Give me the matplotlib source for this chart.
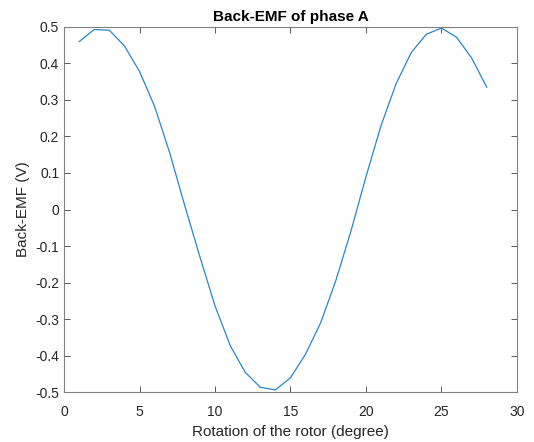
import numpy as np
import matplotlib.pyplot as plt

plt.rcParams['font.family'] = ['Liberation Sans', 'DejaVu Sans']

# rotor position (degree) and phase A back-EMF (V)
rotation = np.arange(1, 29)
emf = [0.460, 0.493, 0.491, 0.448, 0.378, 0.282, 0.155, 0.010, -0.130, -0.264,
       -0.372, -0.446, -0.487, -0.494, -0.461, -0.396, -0.310, -0.195, -0.060, 0.090,
       0.230, 0.345, 0.430, 0.480, 0.497, 0.472, 0.415, 0.335]

xticks = [0, 5, 10, 15, 20, 25, 30]
yticks = np.round(np.arange(-0.5, 0.51, 0.1), 1)

fig = plt.figure(figsize=(5.34, 4.42), dpi=100)
ax = fig.add_axes([0.12, 0.113, 0.848, 0.826])

ax.plot(rotation, emf, color='#2a86c8', lw=0.9)

ax.set_xlim(0, 30)
ax.set_ylim(-0.5, 0.5)
ax.set_xticks(xticks)
ax.set_yticks(yticks)
ax.set_yticklabels(['0' if v == 0 else f'{v:g}' for v in yticks])

gray = '#262626'
for s in ax.spines.values():
    s.set_color('#808080')
    s.set_linewidth(0.8)
ax.tick_params(direction='in', top=True, right=True, length=4, width=0.6,
               colors='#404040', labelsize=10, labelcolor=gray)
ax.tick_params(axis='x', pad=9)

ax.set_xlabel('Rotation of the rotor (degree)', fontsize=11, color=gray, labelpad=5)
ax.set_ylabel('Back-EMF (V)', fontsize=11, color=gray)
ax.set_title('Back-EMF of phase A', fontsize=11, fontweight='bold', color='black', pad=4)

fig.savefig('out.png', dpi=100)
